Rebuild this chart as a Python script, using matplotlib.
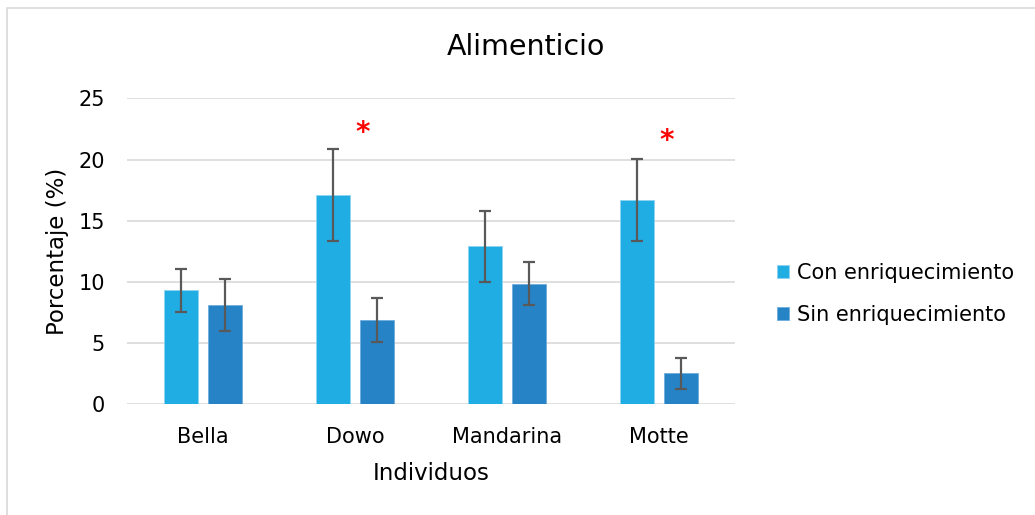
import matplotlib
matplotlib.use("Agg")
import matplotlib.pyplot as plt
from matplotlib.lines import Line2D
import numpy as np

# Data
individuos = ["Bella", "Dowo", "Mandarina", "Motte"]
con_enriq = [9.3, 17.1, 12.9, 16.7]
con_err = [1.75, 3.75, 2.9, 3.35]
sin_enriq = [8.1, 6.85, 9.85, 2.55]
sin_err = [2.15, 1.8, 1.75, 1.27]
series_labels = ["Con enriquecimiento", "Sin enriquecimiento"]
yticks = [0, 5, 10, 15, 20, 25]
signif = ["Dowo", "Motte"]
signif_y = [22.2, 21.5]

c_con = "#1FADE4"
c_sin = "#2683C6"
err_color = "#595959"
grid_color = "#D9D9D9"

plt.rcParams["font.family"] = ["DejaVu Sans"]

W, H = 1035, 515
fig = plt.figure(figsize=(W / 100, H / 100), dpi=100)
ax = fig.add_axes([127 / W, 1 - 404.3 / H, (735 - 127) / W, (404.3 - 98.3) / H])

x = np.arange(len(individuos))
bw = 0.224
off = 0.142
ekw = dict(ecolor=err_color, elinewidth=1.6, capsize=4.5, capthick=1.6)
ax.bar(x - off, con_enriq, bw, color=c_con, edgecolor="#8FD3F0", linewidth=0.6,
       yerr=con_err, error_kw=ekw, label=series_labels[0], zorder=3)
ax.bar(x + off, sin_enriq, bw, color=c_sin, edgecolor="#6FAEDD", linewidth=0.6,
       yerr=sin_err, error_kw=ekw, label=series_labels[1], zorder=3)

ax.set_xlim(-0.5, len(individuos) - 0.5)
ax.set_ylim(0, 25)
ax.set_yticks(yticks)
ax.set_xticks(x)
ax.set_xticklabels(individuos, fontsize=15)
ax.tick_params(axis="y", labelsize=15, length=0, pad=16)
ax.tick_params(axis="x", length=0, pad=16)
ax.yaxis.grid(True, color=grid_color, linewidth=1.2, zorder=0)
for s in ax.spines.values():
    s.set_visible(False)
ax.set_axisbelow(True)

# significance marks
for name, yv in zip(signif, signif_y):
    i = individuos.index(name)
    ax.text(i + 0.052, yv, "*", color="#FF0000", fontsize=20, fontweight="bold",
            ha="center", va="center", transform=ax.transData)

ax.set_ylabel("Porcentaje (%)", fontsize=16.5, labelpad=7)
ax.set_xlabel("Individuos", fontsize=16.5, labelpad=11)

fig.text(526 / W, 1 - 47 / H, "Alimenticio", fontsize=20.5, ha="center", va="center")

handles, labels = ax.get_legend_handles_labels()
leg = fig.legend(handles, labels, loc="center left",
                 bbox_to_anchor=(758 / W, 1 - 294 / H), frameon=False,
                 fontsize=15, handlelength=0.6, handleheight=0.6,
                 handletextpad=0.35, labelspacing=1.05)

# chart outline
fig.add_artist(Line2D([7 / W, 7 / W, 1.0], [0.0, 1 - 8 / H, 1 - 8 / H],
                      transform=fig.transFigure, color="#D9D9D9", linewidth=1.2))

fig.savefig("out.png", dpi=100, facecolor="white")
